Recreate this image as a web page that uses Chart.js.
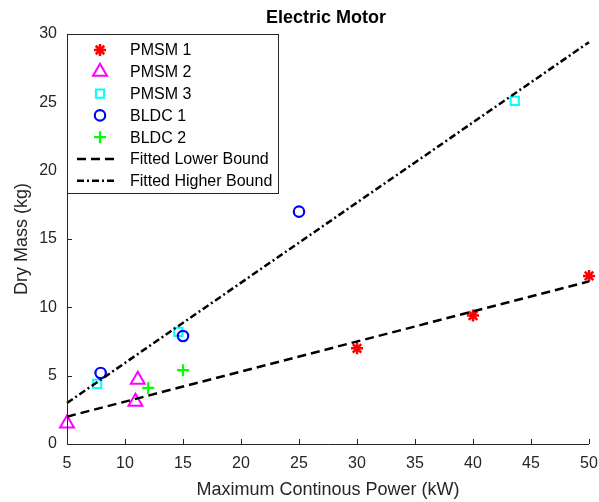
<!DOCTYPE html>
<html><head><meta charset="utf-8">
<script src="https://cdn.jsdelivr.net/npm/chart.js@4/dist/chart.umd.min.js"></script>
<style>html,body{margin:0;padding:0;background:#fff}canvas{display:block}</style>
</head><body>
<canvas id="c" width="599" height="502"></canvas>
<script>
// ---- data ----
const pmsm1X = [30, 40, 50];        const pmsm1Y = [7.0, 9.4, 12.3];
const pmsm2X = [5, 10.9, 11.1];     const pmsm2Y = [1.5, 3.1, 4.7];
const pmsm3X = [7.6, 14.6, 43.6];   const pmsm3Y = [4.4, 8.2, 25.1];
const bldc1X = [7.9, 15.0, 25.0];   const bldc1Y = [5.2, 7.9, 17.0];
const bldc2X = [12.0, 15.0];        const bldc2Y = [4.1, 5.4];
const lowerX = [5, 50];             const lowerY = [2.0, 11.9];
const higherX = [5, 50];            const higherY = [3.0, 29.4];
const seriesLabels = ['PMSM 1', 'PMSM 2', 'PMSM 3', 'BLDC 1', 'BLDC 2', 'Fitted Lower Bound', 'Fitted Higher Bound'];
const xTickValues = [5, 10, 15, 20, 25, 30, 35, 40, 45, 50];
const yTickValues = [0, 5, 10, 15, 20, 25, 30];
const titleText = 'Electric Motor';
const xTitle = 'Maximum Continous Power (kW)';
const yTitle = 'Dry Mass (kg)';

const pts = (xs, ys) => xs.map((x, i) => ({x: x, y: ys[i]}));
const FONT = "'Liberation Sans', Arial, Helvetica, sans-serif";
const AX = '#262626';
const NONE = 'rgba(0,0,0,0)';

const datasets = [
  {label: seriesLabels[0], data: pts(pmsm1X, pmsm1Y), pointStyle: 'star', pointRadius: 6, borderColor: '#ff0000', backgroundColor: NONE, pointBorderWidth: 2.5},
  {label: seriesLabels[1], data: pts(pmsm2X, pmsm2Y), pointStyle: 'triangle', pointRadius: 8, borderColor: '#ff00ff', backgroundColor: NONE, pointBorderWidth: 2},
  {label: seriesLabels[2], data: pts(pmsm3X, pmsm3Y), pointStyle: 'rect', pointRadius: 5.8, borderColor: '#00ffff', backgroundColor: NONE, pointBorderWidth: 2},
  {label: seriesLabels[3], data: pts(bldc1X, bldc1Y), pointStyle: 'circle', pointRadius: 5.2, borderColor: '#0000ff', backgroundColor: NONE, pointBorderWidth: 2.2},
  {label: seriesLabels[4], data: pts(bldc2X, bldc2Y), pointStyle: 'cross', pointRadius: 6, borderColor: '#00ff00', backgroundColor: NONE, pointBorderWidth: 2.2},
  {label: seriesLabels[5], data: pts(lowerX, lowerY), showLine: true, pointRadius: 0, borderColor: '#000', borderWidth: 2.5, borderDash: [9, 5], backgroundColor: NONE, isLine: true},
  {label: seriesLabels[6], data: pts(higherX, higherY), showLine: true, pointRadius: 0, borderColor: '#000', borderWidth: 2.5, borderDash: [7, 3, 2, 3], backgroundColor: NONE, isLine: true}
];
datasets.forEach((d, i) => { d.order = 20 - i; d.clip = false; d.pointHoverRadius = d.pointRadius; d.pointBackgroundColor = NONE; if (!d.isLine) d.pointBorderColor = d.borderColor; });

function drawMarker(ctx, ds, x, y) {
  ctx.save();
  ctx.strokeStyle = ds.borderColor;
  ctx.fillStyle = NONE;
  ctx.lineWidth = ds.pointBorderWidth;
  if (Chart.helpers && Chart.helpers.drawPoint) {
    Chart.helpers.drawPoint(ctx, {pointStyle: ds.pointStyle, radius: ds.pointRadius, rotation: 0, borderWidth: ds.pointBorderWidth}, x, y);
  }
  ctx.restore();
}

const decor = {
  id: 'decor',
  afterDraw(chart) {
    const ctx = chart.ctx;
    const xs = chart.scales.x, ys = chart.scales.y;
    const L = xs.left, R = xs.right, T = ys.top, B = ys.bottom;
    ctx.save();
    // axes
    ctx.strokeStyle = AX; ctx.lineWidth = 1;
    ctx.beginPath();
    ctx.moveTo(L + 0.5, T); ctx.lineTo(L + 0.5, B + 0.5); ctx.lineTo(R, B + 0.5);
    ctx.stroke();
    // inward ticks
    ctx.beginPath();
    xTickValues.forEach(v => { const p = Math.round(xs.getPixelForValue(v)) + 0.5; ctx.moveTo(p, B); ctx.lineTo(p, B - 5); });
    yTickValues.forEach(v => { const p = Math.round(ys.getPixelForValue(v)) + 0.5; ctx.moveTo(L, p); ctx.lineTo(L + 5, p); });
    ctx.stroke();
    // title
    ctx.fillStyle = '#000';
    ctx.font = 'bold 18px ' + FONT;
    ctx.textAlign = 'center'; ctx.textBaseline = 'middle';
    ctx.fillText(titleText, (L + R) / 2 - 2, 18);
    // legend
    const bx = L + 0.5, by = T + 0.5, bw = 211, bh = 159;
    ctx.fillStyle = '#fff';
    ctx.fillRect(bx, by, bw, bh);
    ctx.strokeStyle = AX; ctx.lineWidth = 1;
    ctx.strokeRect(bx, by, bw, bh);
    ctx.font = '16px ' + FONT;
    ctx.textAlign = 'left';
    chart.data.datasets.forEach((ds, i) => {
      const yy = T + 16 + i * 21.8;
      if (ds.isLine) {
        ctx.save();
        ctx.strokeStyle = ds.borderColor; ctx.lineWidth = ds.borderWidth;
        ctx.setLineDash(ds.borderDash);
        ctx.beginPath(); ctx.moveTo(L + 10, yy); ctx.lineTo(L + 50, yy); ctx.stroke();
        ctx.restore();
      } else {
        drawMarker(ctx, ds, L + 33, yy);
      }
      ctx.fillStyle = '#000';
      ctx.fillText(ds.label, L + 63, yy + 1);
    });
    ctx.restore();
  }
};

new Chart(document.getElementById('c'), {
  type: 'scatter',
  data: {datasets: datasets},
  options: {
    responsive: false,
    animation: false,
    devicePixelRatio: 1,
    layout: {padding: {top: 34, right: 9, left: 0, bottom: 0}},
    plugins: {legend: {display: false}, title: {display: false}, tooltip: {enabled: false}},
    elements: {line: {tension: 0}},
    scales: {
      x: {
        type: 'linear', min: 5, max: 50,
        afterBuildTicks: s => { s.ticks = xTickValues.map(v => ({value: v})); },
        afterFit: s => { s.height = 58; s.paddingRight = 0; s.paddingLeft = 0; },
        grid: {display: false, drawTicks: false},
        border: {display: false},
        ticks: {color: AX, font: {family: FONT, size: 16}, padding: 10, maxRotation: 0, autoSkip: false},
        title: {display: true, text: xTitle, color: AX, font: {family: FONT, size: 18}, padding: {top: 0, bottom: 1}}
      },
      y: {
        type: 'linear', min: 0, max: 30,
        afterBuildTicks: s => { s.ticks = yTickValues.map(v => ({value: v})); },
        afterFit: s => { s.width = 67; s.paddingTop = 0; s.paddingBottom = 0; },
        grid: {display: false, drawTicks: false},
        border: {display: false},
        ticks: {color: AX, font: {family: FONT, size: 16}, padding: 10, autoSkip: false},
        title: {display: true, text: yTitle, color: AX, font: {family: FONT, size: 18}, padding: {top: 11, bottom: 0}}
      }
    }
  },
  plugins: [decor]
});
</script>
</body></html>
